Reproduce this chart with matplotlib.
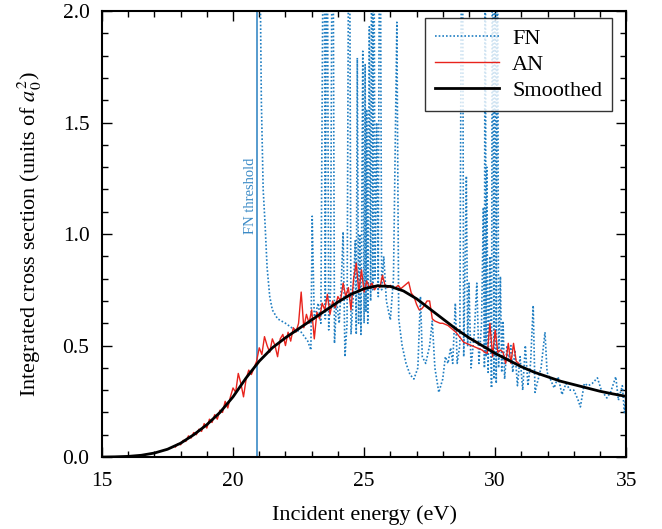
import numpy as np
import matplotlib
matplotlib.use('Agg')
import matplotlib.pyplot as plt
from matplotlib.ticker import MultipleLocator, FormatStrFormatter

plt.rcParams['font.family'] = ['Liberation Serif', 'DejaVu Serif']
plt.rcParams['mathtext.fontset'] = 'stix'

# smoothed cross section
smooth_e = [15.0, 15.5, 16.0, 16.5, 17.0, 17.5, 18.0, 18.5, 19.0, 19.5, 20.0, 20.5,
            21.0, 21.5, 22.0, 22.5, 23.0, 23.5, 24.0, 24.5, 25.0, 25.5, 26.0, 26.5,
            27.0, 27.5, 28.0, 28.5, 29.0, 29.5, 30.0, 30.5, 31.0, 31.5, 32.0, 32.5,
            33.0, 33.5, 34.0, 34.5, 35.0]
smooth_s = [0.0, 0.001, 0.003, 0.008, 0.018, 0.035, 0.062, 0.10, 0.145, 0.20, 0.27, 0.355,
            0.43, 0.49, 0.535, 0.575, 0.615, 0.655, 0.695, 0.73, 0.755, 0.768, 0.765, 0.745,
            0.71, 0.665, 0.62, 0.575, 0.535, 0.50, 0.465, 0.435, 0.405, 0.38, 0.36, 0.34,
            0.325, 0.31, 0.295, 0.283, 0.272]

# AN (0.1 eV grid, 17.8 - 30.9 eV)
an_e = np.round(np.arange(17.8, 30.95, 0.1), 1)
an_s = [0.045, 0.06, 0.055, 0.075, 0.07, 0.095, 0.085, 0.11, 0.10, 0.125,
        0.115, 0.15, 0.13, 0.17, 0.155, 0.19, 0.17, 0.21, 0.20, 0.25,
        0.22, 0.27, 0.31, 0.29, 0.375, 0.33, 0.27, 0.35, 0.39, 0.37,
        0.40, 0.43, 0.49, 0.46, 0.54, 0.50, 0.47, 0.53, 0.50, 0.45,
        0.53, 0.55, 0.50, 0.56, 0.52, 0.58, 0.56, 0.60, 0.74, 0.58,
        0.64, 0.60, 0.66, 0.53, 0.65, 0.62, 0.69, 0.66, 0.73, 0.64,
        0.70, 0.67, 0.72, 0.70, 0.78, 0.72, 0.76, 0.66, 0.80, 0.87,
        0.74, 0.84, 0.74, 0.79, 0.76, 0.78, 0.75, 0.77, 0.76, 0.815,
        0.77, 0.76, 0.77, 0.76, 0.76, 0.77, 0.755, 0.765, 0.775, 0.785,
        0.735, 0.72, 0.685, 0.66, 0.665, 0.68, 0.70, 0.70, 0.62, 0.61,
        0.605, 0.60, 0.60, 0.595, 0.59, 0.58, 0.57, 0.56, 0.545, 0.53,
        0.515, 0.51, 0.505, 0.50, 0.495, 0.49, 0.485, 0.48, 0.47, 0.465,
        0.60, 0.45, 0.57, 0.47, 0.48, 0.47, 0.42, 0.51, 0.42, 0.51,
        0.43, 0.42]

# FN (resonances; off-scale peaks entered as values above 2)
fn_e = [20.92, 21.0, 21.08, 21.15, 21.22, 21.3, 21.4, 21.5, 21.7, 22.0,
        22.3, 22.6, 22.85, 22.97, 23.02, 23.1, 23.25, 23.35, 23.47, 23.52,
        23.58, 23.65, 23.72, 23.8, 23.87, 23.95, 24.05, 24.12, 24.2, 24.27,
        24.35, 24.43, 24.5, 24.58, 24.66, 24.7, 24.74, 24.79, 24.83, 24.88,
        24.95, 25.0, 25.04, 25.07, 25.1, 25.14, 25.2, 25.25, 25.3, 25.33,
        25.36, 25.42, 25.48, 25.54, 25.6, 25.67, 25.75, 25.85, 26.0, 26.12,
        26.25, 26.32, 26.45, 26.6, 26.75, 26.9, 27.05, 27.15, 27.22, 27.35,
        27.5, 27.6, 27.7, 27.85, 28.0, 28.1, 28.2, 28.3, 28.38, 28.48,
        28.55, 28.65, 28.74, 28.8, 28.9, 28.95, 29.0, 29.08, 29.2, 29.3,
        29.38, 29.48, 29.55, 29.59, 29.62, 29.65, 29.68, 29.73, 29.8, 29.86,
        29.9, 29.95, 30.0, 30.04, 30.08, 30.13, 30.2, 30.25, 30.3, 30.36,
        30.45, 30.5, 30.6, 30.67, 30.75, 30.85, 30.95, 31.05, 31.15, 31.25,
        31.35, 31.45, 31.52, 31.6, 31.75, 31.9, 31.98, 32.1, 32.25, 32.4,
        32.55, 32.7, 32.86, 33.0, 33.15, 33.25, 33.4, 33.55, 33.7, 33.9,
        34.05, 34.26, 34.4, 34.6, 34.7, 34.85, 34.93, 35.0]
fn_s = [5.0, 2.6, 1.6, 1.2, 1.05, 0.85, 0.72, 0.66, 0.62, 0.60,
        0.575, 0.56, 0.52, 0.48, 1.08, 0.62, 0.69, 0.60, 3.0, 0.62,
        3.0, 0.57, 0.75, 3.0, 0.51, 0.70, 0.60, 0.75, 1.01, 0.45,
        0.60, 3.0, 0.55, 0.70, 0.97, 0.55, 1.79, 0.60, 1.00, 0.55,
        1.82, 0.60, 1.76, 0.65, 1.56, 0.60, 1.93, 0.70, 3.0, 0.75,
        3.0, 0.80, 1.50, 0.72, 3.0, 0.75, 0.90, 0.70, 0.615, 0.80,
        1.95, 0.62, 0.50, 0.42, 0.37, 0.35, 0.40, 0.72, 0.45, 0.42,
        0.50, 0.61, 0.40, 0.29, 0.35, 0.45, 0.42, 0.49, 0.42, 0.69,
        0.42, 0.50, 3.0, 0.45, 1.26, 0.50, 0.78, 0.40, 0.55, 0.78,
        0.42, 0.60, 1.12, 0.40, 3.0, 0.45, 1.30, 0.38, 0.90, 0.31,
        3.0, 0.35, 3.0, 0.33, 3.0, 0.40, 0.81, 0.38, 0.61, 0.35,
        0.50, 0.43, 0.50, 0.38, 0.48, 0.32, 0.45, 0.30, 0.50, 0.32,
        0.42, 0.68, 0.29, 0.33, 0.40, 0.56, 0.38, 0.35, 0.31, 0.36,
        0.28, 0.33, 0.30, 0.30, 0.26, 0.225, 0.33, 0.32, 0.33, 0.355,
        0.30, 0.265, 0.29, 0.36, 0.255, 0.32, 0.20, 0.30]

fn_threshold = 20.9


def main():
    fig = plt.figure(figsize=(6.62, 5.29), dpi=100)
    ax = fig.add_axes([0.154, 0.136, 0.792, 0.843])

    ax.axvline(fn_threshold, color='#3a8ac6', linewidth=1.2)
    ax.text(fn_threshold - 0.25, 1.0, 'FN threshold', rotation=90, color='#3a8ac6',
            fontsize=10.5, ha='center', va='bottom')

    ax.plot(fn_e, fn_s, color='#1f7ec2', linestyle=(0, (1, 1.2)), linewidth=1.2, label='FN')
    ax.plot(an_e, an_s, color='#e8231c', linewidth=1.0, label='AN')
    ax.plot(smooth_e, smooth_s, color='black', linewidth=2.0, label='Smoothed')

    ax.set_xlim(15, 35)
    ax.set_ylim(0, 2.0)
    ax.xaxis.set_major_locator(MultipleLocator(5))
    ax.xaxis.set_minor_locator(MultipleLocator(1))
    ax.yaxis.set_major_locator(MultipleLocator(0.5))
    ax.yaxis.set_minor_locator(MultipleLocator(0.1))
    ax.yaxis.set_major_formatter(FormatStrFormatter('%.1f'))
    ax.tick_params(which='both', direction='in', top=True, right=True, labelsize=15.5, width=1.0)
    ax.tick_params(which='major', length=7)
    ax.tick_params(which='minor', length=4)
    ax.tick_params(axis='x', pad=11)
    ax.tick_params(axis='y', pad=9)
    for sp in ax.spines.values():
        sp.set_linewidth(1.5)

    ax.set_xlabel('Incident energy (eV)', fontsize=16)
    ax.set_ylabel('Integrated cross section (units of $a_0^2$)', fontsize=16)
    ax.yaxis.set_label_coords(-0.11, 0.5)
    ax.xaxis.set_label_coords(0.5, -0.108)

    leg = ax.legend(loc='upper right', bbox_to_anchor=(0.973, 0.984), fontsize=16,
                    frameon=True, fancybox=False, edgecolor='black', handlelength=2.85,
                    handletextpad=0.6, borderaxespad=0.0, labelspacing=0.25, borderpad=0.45)
    leg.get_frame().set_linewidth(1.0)

    plt.savefig('out.png', dpi=100)


if __name__ == "__main__":
    main()
